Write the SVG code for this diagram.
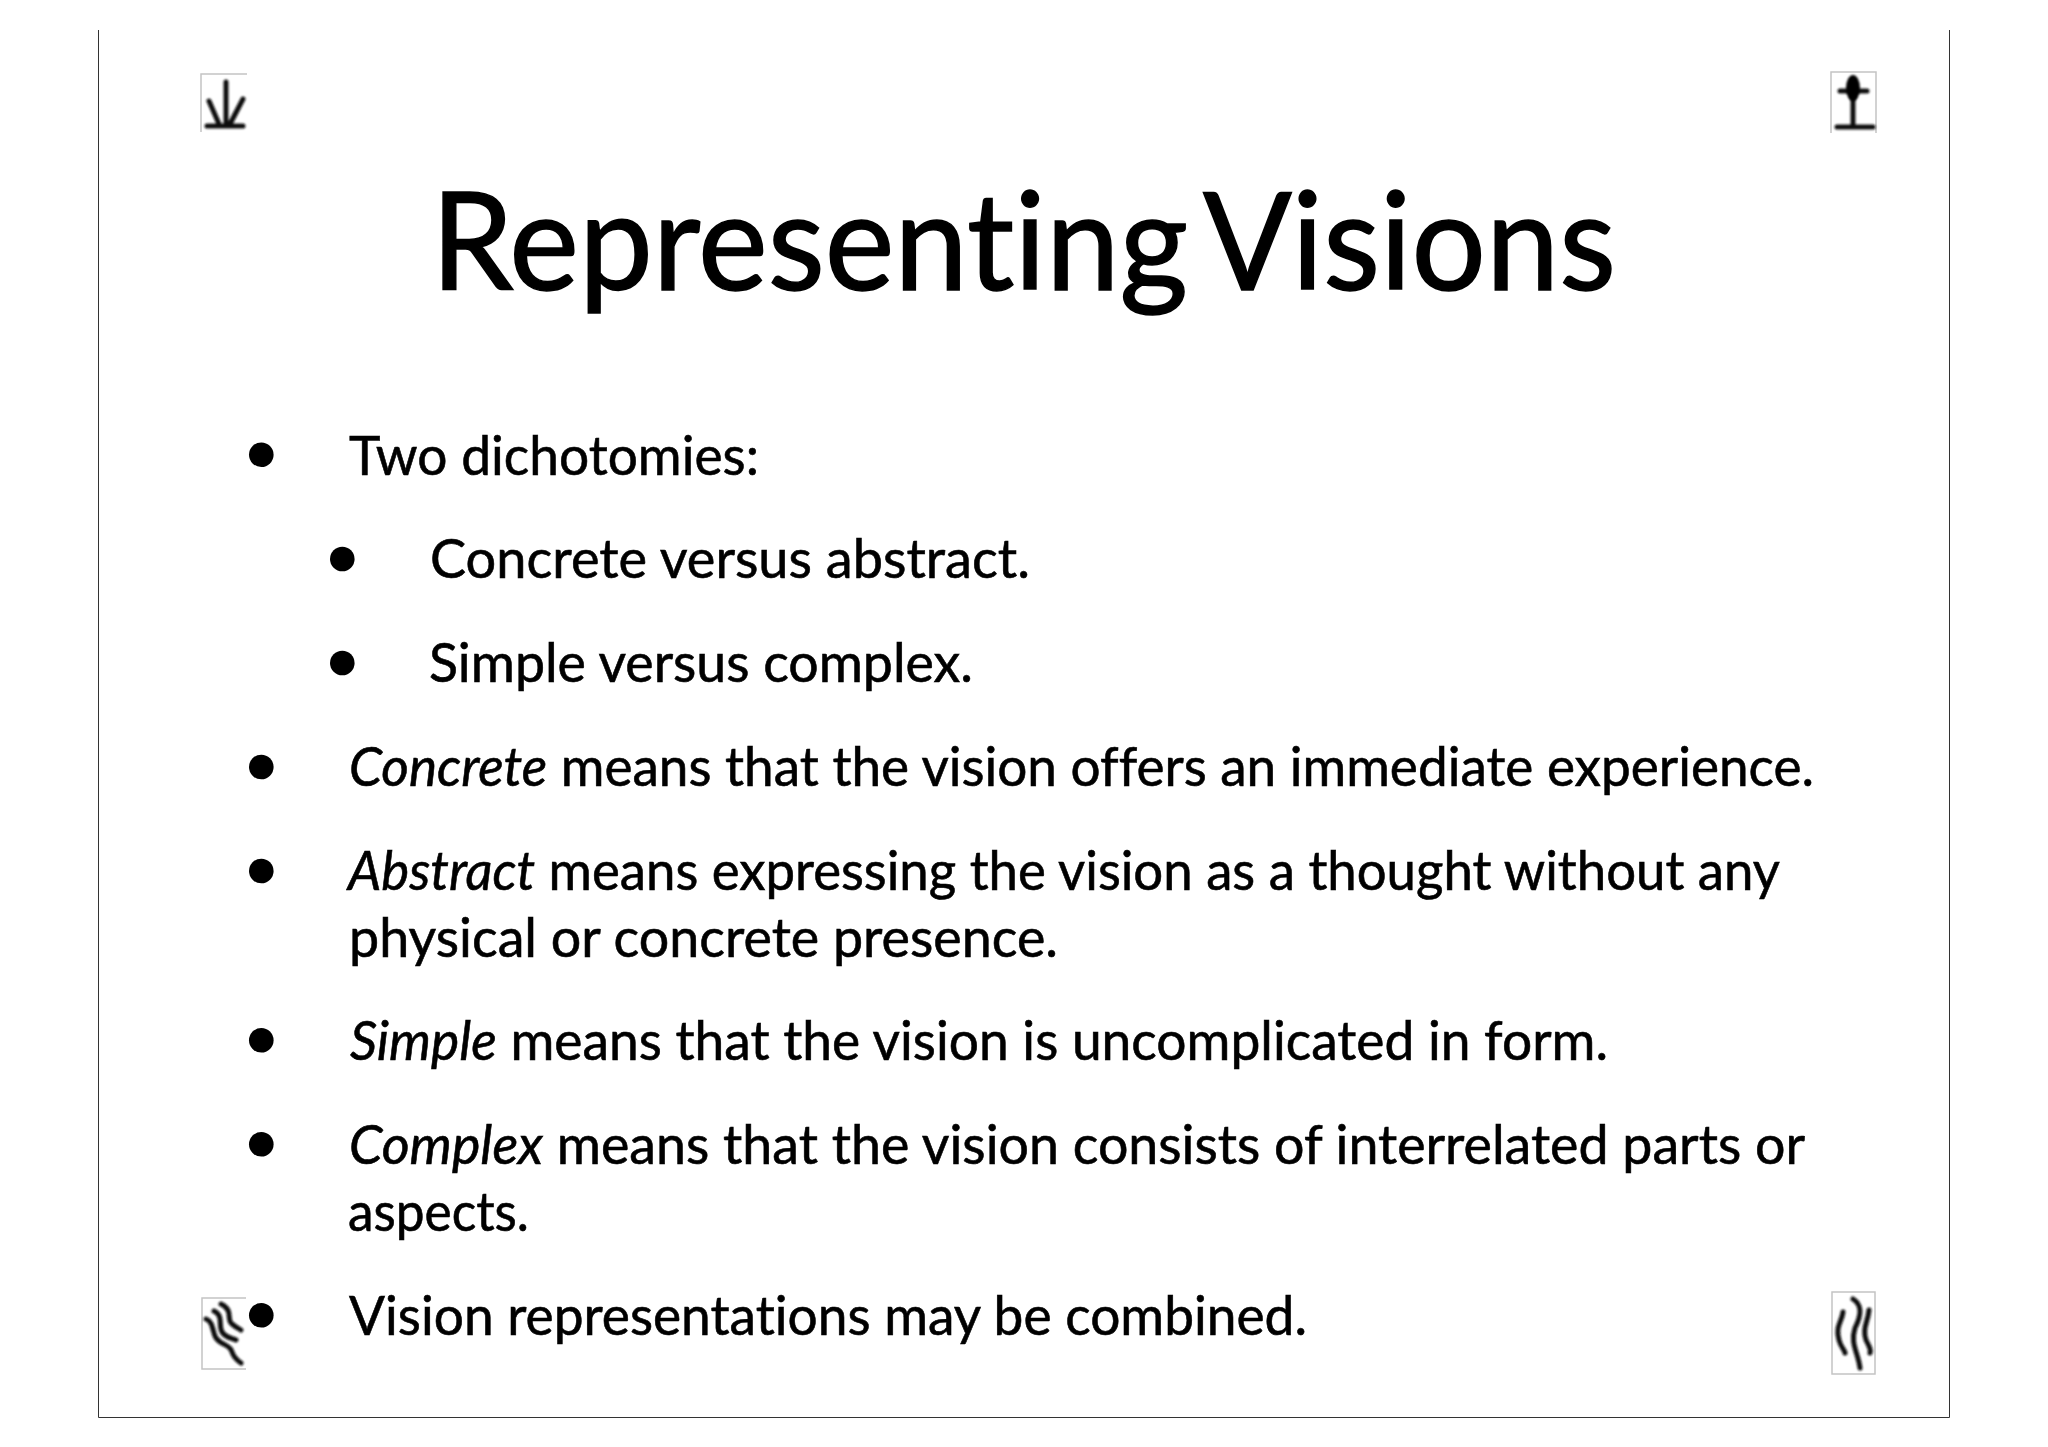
<svg xmlns="http://www.w3.org/2000/svg" width="2048" height="1447" viewBox="0 0 2048 1447"><style>text{font-family:"Lato","Liberation Sans",sans-serif;fill:#000;stroke:#000;stroke-width:.6;font-variant-ligatures:none;font-size:54px}.t{font-size:136px;stroke-width:1.500}.i{font-style:italic}.f{fill:none;stroke:#c4c4c4;stroke-width:1.500}.g{fill:none;stroke:#111;stroke-width:5;stroke-linecap:round;stroke-linejoin:round;filter:url(#s)}.b{fill:#000}</style><defs><filter id="s" x="-30%" y="-30%" width="160%" height="160%"><feGaussianBlur stdDeviation="1"/></filter></defs><rect width="2048" height="1447" fill="#fff"/><path d="M98.500 30V1417.500H1949.500V30" fill="none" stroke="#333" stroke-width="1"/><g id="icon-top-left"><path class="f" d="M201 132V74H247"/><path class="g" d="M226 82V125M209 101L219 124M243 99L230 124M207 126H243"/></g><g id="icon-top-right"><path class="f" d="M1831 133V72H1876V133"/><path class="g" d="M1853 95V127M1840 91H1867M1837 127H1873"/><ellipse cx="1853" cy="88" rx="7" ry="13" fill="#000" filter="url(#s)"/></g><g id="icon-bottom-left"><path class="f" d="M246 1298H202V1369H246"/><path class="g" d="M221 1304C234 1310 226 1320 232 1324C238 1329 240 1329 241 1330M214 1311C224 1316 218 1325 222 1332C226 1338 232 1338 236 1340M206 1319C214 1322 212 1332 216 1338C222 1346 230 1344 232 1352C234 1358 238 1361 241 1363"/></g><g id="icon-bottom-right"><path class="f" d="M1832 1292H1875V1374H1832Z"/><path class="g" d="M1843 1312C1842 1322 1835 1326 1839 1340C1841 1348 1845 1350 1845 1353M1853 1299C1864 1306 1860 1318 1855 1328C1850 1344 1858 1352 1860 1368M1869 1310C1868 1322 1862 1328 1866 1340C1870 1348 1871 1350 1870 1353"/></g><g id="title"><text class="t" x="431" y="290" textLength="757" lengthAdjust="spacingAndGlyphs">Representing</text><text class="t" x="1203" y="290" textLength="413" lengthAdjust="spacingAndGlyphs">Visions</text></g><g id="body"><text x="349" y="475" textLength="410" lengthAdjust="spacingAndGlyphs">Two dichotomies:</text><text x="430" y="578" textLength="600" lengthAdjust="spacingAndGlyphs">Concrete versus abstract.</text><text x="429" y="682" textLength="544" lengthAdjust="spacingAndGlyphs">Simple versus complex.</text><text x="349" y="786" textLength="1465" lengthAdjust="spacingAndGlyphs"><tspan class="i">Concrete</tspan> means that the vision offers an immediate experience.</text><text x="348" y="890" textLength="1432" lengthAdjust="spacingAndGlyphs"><tspan class="i">Abstract</tspan> means expressing the vision as a thought without any</text><text x="349" y="957" textLength="709" lengthAdjust="spacingAndGlyphs">physical or concrete presence.</text><text x="350" y="1060" textLength="1258" lengthAdjust="spacingAndGlyphs"><tspan class="i">Simple</tspan> means that the vision is uncomplicated in form.</text><text x="349" y="1164" textLength="1456" lengthAdjust="spacingAndGlyphs"><tspan class="i">Complex</tspan> means that the vision consists of interrelated parts or</text><text x="348" y="1231" textLength="181" lengthAdjust="spacingAndGlyphs">aspects.</text><text x="349" y="1335" textLength="958" lengthAdjust="spacingAndGlyphs">Vision representations may be combined.</text></g><g id="bullets"><circle class="b" cx="261.300" cy="454.700" r="12.300"/><circle class="b" cx="342.300" cy="559" r="12.300"/><circle class="b" cx="342.300" cy="663" r="12.300"/><circle class="b" cx="261.300" cy="767" r="12.300"/><circle class="b" cx="261.300" cy="871" r="12.300"/><circle class="b" cx="261.300" cy="1040.300" r="12.300"/><circle class="b" cx="261.300" cy="1144.300" r="12.300"/><circle class="b" cx="261.300" cy="1315.300" r="12.300"/></g></svg>
